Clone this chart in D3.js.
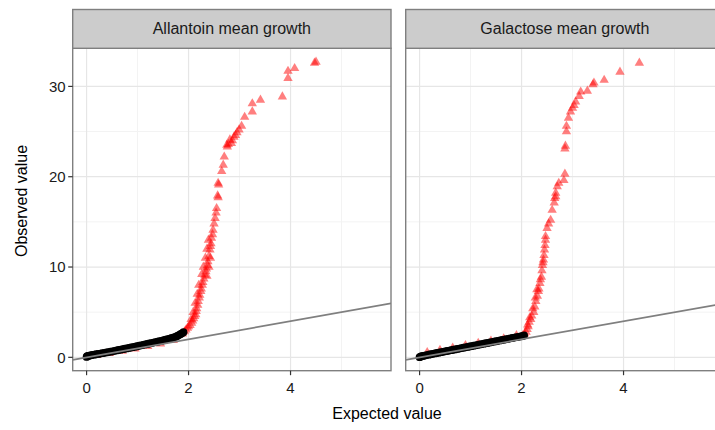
<!DOCTYPE html>
<html>
<head>
<meta charset="utf-8">
<script src="https://cdn.jsdelivr.net/npm/d3@7"></script>
<style>
  body { margin: 0; background: #fff; }
  svg { display: block; font-family: "Liberation Sans", Arial, sans-serif; }
</style>
</head>
<body>
<div id="chart"></div>
<script>
// facet titles
const facets = ["Allantoin mean growth", "Galactose mean growth"];
const xTicks = [0, 2, 4];
const xMinor = [1, 3, 5];
const yTicks = [0, 10, 20, 30];
const yMinor = [5, 15, 25];
const ablineSlope = 1;
const ablineIntercept = 0;

// [expected, observed]
const allantoinBlack = [[0.00,0.05],[0.01,0.12],[0.03,0.15],[0.05,0.18],[0.08,0.22],[0.11,0.26],[0.15,0.30],[0.19,0.34],[0.23,0.38],[0.27,0.42],[0.31,0.46],[0.35,0.50],[0.39,0.54],[0.43,0.58],[0.47,0.63],[0.51,0.67],[0.55,0.72],[0.59,0.76],[0.63,0.81],[0.67,0.85],[0.71,0.90],[0.75,0.95],[0.79,0.99],[0.83,1.04],[0.87,1.09],[0.91,1.13],[0.95,1.18],[0.99,1.23],[1.03,1.28],[1.07,1.33],[1.11,1.38],[1.15,1.43],[1.19,1.48],[1.23,1.53],[1.27,1.58],[1.31,1.63],[1.35,1.68],[1.39,1.73],[1.43,1.78],[1.47,1.83],[1.51,1.89],[1.55,1.95],[1.59,2.01],[1.63,2.07],[1.67,2.14],[1.71,2.21],[1.75,2.29],[1.78,2.37],[1.81,2.46],[1.84,2.56],[1.87,2.66],[1.90,2.78]];

const allantoinRed = [[0.20,0.22],[0.45,0.45],[0.70,0.70],[0.95,0.95],[1.20,1.22],[1.45,1.50],[1.70,1.90],
  [1.88,2.60],[1.92,2.85],[1.95,3.05],[1.98,3.25],[2.00,3.40],[2.03,3.55],[2.06,3.80],[2.08,4.05],[2.10,4.30],[2.12,4.55],[2.14,4.75],[2.15,5.10],[2.16,5.40],[2.18,5.80],[2.19,6.20],[2.21,6.60],[2.22,6.90],[2.24,7.30],[2.25,7.60],[2.27,8.00],[2.28,8.30],[2.30,8.70],[2.32,9.10],[2.34,9.50],[2.35,9.80],[2.37,10.20],[2.38,10.60],[2.40,11.20],[2.42,11.90],[2.43,12.30],[2.44,12.60],[2.45,13.20],[2.47,13.60],[2.48,14.10],[2.50,14.80],[2.52,15.40],[2.54,16.00],[2.55,16.50],[2.58,17.70],[2.57,17.90],[2.58,19.30],[2.59,19.10],[2.65,20.60],[2.68,21.30],[2.70,22.20],[2.75,23.50],[2.76,23.30],[2.78,23.60],[2.81,24.10],[2.84,23.70],[2.86,24.00],[2.89,24.40],[2.92,24.60],[2.95,24.90],[2.99,25.20],[3.04,25.60],[3.10,26.60],[3.25,27.20],[3.25,28.10],[3.41,28.50],[3.84,28.86],[3.95,30.90],[3.95,31.70],[4.08,32.00],[4.47,32.60],[4.50,32.70],
  [2.05,4.20],[2.09,5.00],[2.13,6.00],[2.17,7.00],[2.20,8.00],[2.26,9.20],[2.29,10.00],[2.33,11.00],[2.36,12.00],[2.39,13.00],[2.36,9.00],[2.40,10.00],[2.43,11.00]];

const galactoseBlack = [[0.00,0.02],[0.02,0.08],[0.04,0.12],[0.07,0.16],[0.10,0.20],[0.14,0.25],[0.18,0.30],[0.22,0.34],[0.26,0.39],[0.30,0.43],[0.34,0.48],[0.38,0.52],[0.42,0.57],[0.46,0.61],[0.50,0.66],[0.54,0.70],[0.58,0.75],[0.62,0.79],[0.66,0.84],[0.70,0.88],[0.74,0.93],[0.78,0.97],[0.82,1.02],[0.86,1.06],[0.90,1.11],[0.94,1.15],[0.98,1.20],[1.02,1.24],[1.06,1.29],[1.10,1.33],[1.14,1.38],[1.18,1.42],[1.22,1.47],[1.26,1.51],[1.30,1.56],[1.34,1.60],[1.38,1.65],[1.42,1.69],[1.46,1.74],[1.50,1.78],[1.54,1.83],[1.58,1.87],[1.62,1.92],[1.66,1.96],[1.70,2.01],[1.74,2.05],[1.78,2.10],[1.82,2.14],[1.86,2.19],[1.90,2.23],[1.94,2.27],[1.98,2.31],[2.02,2.36],[2.05,2.42]];

const galactoseRed = [[0.15,0.55],[0.40,0.80],[0.65,1.05],[0.90,1.32],[1.15,1.57],[1.40,1.82],[1.65,2.08],[1.90,2.42],
  [2.02,2.40],[2.06,2.60],[2.09,2.80],[2.11,3.10],[2.13,3.40],[2.15,3.90],[2.18,4.20],[2.20,4.60],[2.24,5.00],[2.26,5.60],[2.28,6.20],[2.31,6.80],[2.33,7.30],[2.34,7.60],[2.36,8.20],[2.39,8.90],[2.40,9.60],[2.41,10.20],[2.43,10.80],[2.44,11.30],[2.45,11.90],[2.46,12.40],[2.47,13.00],[2.47,13.40],[2.50,14.30],[2.53,14.80],[2.57,15.20],[2.60,16.30],[2.64,17.10],[2.67,17.80],[2.65,17.60],[2.67,18.20],[2.70,18.90],[2.73,19.30],[2.83,19.60],[2.85,20.30],[2.85,23.10],[2.86,23.40],[2.88,25.00],[2.88,25.60],[2.92,26.50],[2.96,27.20],[3.00,27.60],[3.03,27.90],[3.06,28.30],[3.13,28.90],[3.16,29.40],[3.29,29.50],[3.40,30.20],[3.42,30.40],[3.62,30.70],[3.93,31.60],[4.31,32.60],
  [2.12,3.60],[2.16,4.40],[2.22,5.40],[2.27,6.60],[2.30,7.50],[2.37,8.60],[2.42,10.50]];

const panelData = [
  { black: allantoinBlack, red: allantoinRed },
  { black: galactoseBlack, red: galactoseRed }
];

const width = 715, height = 430;
const stripTop = 9.5, panelTop = 48.3, panelBottom = 370.7;
const panelLeft = [72.7, 405.7];
const panelW = 318.3;
const panelH = panelBottom - panelTop;

const svg = d3.select("#chart").append("svg")
  .attr("width", width)
  .attr("height", height);

const x = d3.scaleLinear().domain([-0.272, 5.97]).range([0, panelW]);
const y = d3.scaleLinear().domain([-1.48, 34.22]).range([panelH, 0]);

const tri = d3.symbol().type(d3.symbolTriangle).size(38);

facets.forEach((name, i) => {
  const g = svg.append("g")
    .attr("transform", `translate(${panelLeft[i]}, ${panelTop})`);

  // background + grid
  g.append("rect").attr("width", panelW).attr("height", panelH).attr("fill", "#fff");
  g.selectAll(".ymin").data(yMinor).enter().append("line")
    .attr("x1", 0).attr("x2", panelW)
    .attr("y1", d => y(d)).attr("y2", d => y(d))
    .attr("stroke", "#f3f3f3").attr("stroke-width", 1);
  g.selectAll(".xmin").data(xMinor).enter().append("line")
    .attr("y1", 0).attr("y2", panelH)
    .attr("x1", d => x(d)).attr("x2", d => x(d))
    .attr("stroke", "#f3f3f3").attr("stroke-width", 1);
  g.selectAll(".ymaj").data(yTicks).enter().append("line")
    .attr("x1", 0).attr("x2", panelW)
    .attr("y1", d => y(d)).attr("y2", d => y(d))
    .attr("stroke", "#e6e6e6").attr("stroke-width", 1.2);
  g.selectAll(".xmaj").data(xTicks).enter().append("line")
    .attr("y1", 0).attr("y2", panelH)
    .attr("x1", d => x(d)).attr("x2", d => x(d))
    .attr("stroke", "#e6e6e6").attr("stroke-width", 1.2);

  const clipId = "clip" + i;
  g.append("clipPath").attr("id", clipId)
    .append("rect").attr("width", panelW).attr("height", panelH);
  const plot = g.append("g").attr("clip-path", `url(#${clipId})`);

  // red triangles
  plot.selectAll("path.obs").data(panelData[i].red).enter().append("path")
    .attr("class", "obs")
    .attr("d", tri)
    .attr("transform", d => `translate(${x(d[0])}, ${y(d[1])})`)
    .attr("fill", "#ff0000")
    .attr("fill-opacity", 0.5);

  // black points
  plot.selectAll("circle").data(panelData[i].black).enter().append("circle")
    .attr("cx", d => x(d[0]))
    .attr("cy", d => y(d[1]))
    .attr("r", 3.9)
    .attr("fill", "#000");

  // reference line
  const xd = x.domain();
  plot.append("line")
    .attr("x1", x(xd[0])).attr("y1", y(ablineIntercept + ablineSlope * xd[0]))
    .attr("x2", x(xd[1])).attr("y2", y(ablineIntercept + ablineSlope * xd[1]))
    .attr("stroke", "#7f7f7f").attr("stroke-width", 1.7);

  // border
  g.append("rect").attr("width", panelW).attr("height", panelH)
    .attr("fill", "none").attr("stroke", "#7f7f7f").attr("stroke-width", 1.4);

  // strip
  svg.append("rect")
    .attr("x", panelLeft[i]).attr("y", stripTop)
    .attr("width", panelW).attr("height", panelTop - stripTop)
    .attr("fill", "#cccccc").attr("stroke", "#7f7f7f").attr("stroke-width", 1.4);
  svg.append("text")
    .attr("x", panelLeft[i] + panelW / 2).attr("y", 34)
    .attr("text-anchor", "middle")
    .attr("font-size", "16px").attr("fill", "#1a1a1a")
    .text(name);

  // x axis
  const xAxis = g.append("g").attr("transform", `translate(0, ${panelH})`);
  xAxis.selectAll("line").data(xTicks).enter().append("line")
    .attr("x1", d => x(d)).attr("x2", d => x(d))
    .attr("y1", 0).attr("y2", 4.5)
    .attr("stroke", "#333").attr("stroke-width", 1.2);
  xAxis.selectAll("text").data(xTicks).enter().append("text")
    .attr("x", d => x(d)).attr("y", 22.5)
    .attr("text-anchor", "middle")
    .attr("font-size", "15px").attr("fill", "#1a1a1a")
    .text(d => d);

  // y axis on first panel only
  if (i === 0) {
    const yAxis = g.append("g");
    yAxis.selectAll("line").data(yTicks).enter().append("line")
      .attr("x1", -4.5).attr("x2", 0)
      .attr("y1", d => y(d)).attr("y2", d => y(d))
      .attr("stroke", "#333").attr("stroke-width", 1.2);
    yAxis.selectAll("text").data(yTicks).enter().append("text")
      .attr("x", -7).attr("y", d => y(d))
      .attr("dy", "0.36em")
      .attr("text-anchor", "end")
      .attr("font-size", "15px").attr("fill", "#1a1a1a")
      .text(d => d);
  }
});

// axis titles
svg.append("text")
  .attr("x", 387).attr("y", 419)
  .attr("text-anchor", "middle")
  .attr("font-size", "16px").attr("fill", "#000")
  .text("Expected value");

svg.append("text")
  .attr("transform", "translate(27, 201) rotate(-90)")
  .attr("text-anchor", "middle")
  .attr("font-size", "16px").attr("fill", "#000")
  .text("Observed value");
</script>
</body>
</html>
